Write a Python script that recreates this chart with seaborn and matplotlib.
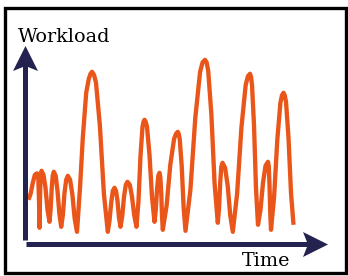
import matplotlib
matplotlib.use('Agg')
import matplotlib.pyplot as plt
import matplotlib.patches as patches
from matplotlib.path import Path
import seaborn as sns

sns.set_style('white')
plt.rcParams['font.family'] = ['DejaVu Serif']

# workload curve
time = [3, 5.1, 7.3, 9.4, 11.5,
        12.8, 13.6, 14, 14.4, 15, 16,
        18, 20, 22, 24,
        25.1, 26.2, 27.2, 28.3,
        30.2, 32, 33.9, 35.7,
        37.4, 39, 40.7, 42.3,
        44.6, 46.9, 49.2, 51.5,
        54.5, 57.3, 60.7, 63.3, 65, 66.5,
        68.5, 70.5, 74.4, 78.4, 82.3,
        84, 85.7, 87.3, 89,
        90.5, 92, 93.5, 95,
        96.8, 98.5, 100.3, 102,
        104.3, 106.5, 108.8, 111,
        113, 115, 117, 118, 119,
        120.2, 121.5, 124, 126.5, 129,
        130.3, 131.5, 132.8, 134,
        134.8, 135.7, 136.5, 137.3,
        141.1, 144.8, 148.6, 150.5, 152.3,
        153.2, 154.2, 156.2, 158.1, 160,
        164.9, 169.8, 174.6, 177.1, 179.5,
        181.1, 182.7, 185.9, 189.1, 192.3,
        193.5, 194.7, 195.8, 197,
        199.6, 202.2, 204.7, 207.3,
        211.6, 215.9, 220.2, 222.4, 224.5,
        225.5, 226.5, 228.5, 230.5, 232.5,
        235, 237.5, 240, 242.5,
        243.3, 244, 244.8, 245.5,
        248.6, 251.8, 254.9, 256.5, 258,
        259.2, 260.5, 263, 265.5, 268]

workload = [44, 50, 61, 69, 70.5,
            66, 40, 16, 40, 66, 73,
            69, 56, 34, 22,
            34, 55, 68, 72,
            68, 53, 30, 17,
            29, 51, 64, 68,
            64, 49, 25, 12,
            56, 106, 151, 165, 170, 172,
            169, 161, 118, 50, 12,
            23, 41, 53, 56,
            53, 43, 26, 17,
            28, 47, 59, 62,
            59, 47, 28, 17,
            43, 88, 117, 122, 124,
            122, 117, 89, 47, 22,
            34, 54, 68, 71,
            67, 52, 28, 14,
            38, 79, 105, 110, 112,
            110, 105, 78, 37, 13,
            54, 126, 172, 181.5, 184,
            181.5, 173, 129, 60, 21,
            35, 61, 77, 81,
            76, 58, 29, 12,
            50, 116, 159, 167.5, 170,
            167, 159, 119, 55, 19,
            34, 61, 78, 82,
            77, 59, 30, 14,
            47, 104, 141, 148.5, 151,
            148.5, 142, 106, 51, 19]

x_label = 'Time'
y_label = 'Workload'

orange = '#EA5519'
navy = '#24234F'

W, H = 348, 276
fig = plt.figure(figsize=(W / 100, H / 100), dpi=100)
ax = fig.add_axes([25.5 / W, 32.2 / H, 304 / W, 204 / H])

sns.lineplot(x=time, y=workload, sort=False, estimator=None, color=orange,
             linewidth=3.1, solid_joinstyle='round', solid_capstyle='butt', ax=ax)
ax.set_xlim(0, 304)
ax.set_ylim(0, 204)
ax.axis('off')

# axis arrows: thick shaft + notched (stealth) head
ax.plot([0, 0], [0.02, 0.92], transform=ax.transAxes, color=navy, lw=3.6,
        solid_capstyle='butt', clip_on=False)
ax.plot([0.002, 0.95], [0, 0], transform=ax.transAxes, color=navy, lw=3.6,
        solid_capstyle='butt', clip_on=False)
up_head = Path([(0, 0.5), (0.5, -0.5), (0, -0.3), (-0.5, -0.5), (0, 0.5)])
right_head = Path([(0.5, 0), (-0.5, 0.5), (-0.3, 0), (-0.5, -0.5), (0.5, 0)])
ax.plot([0], [0.913], marker=up_head, markersize=18, color=navy,
        markeredgewidth=0, transform=ax.transAxes, clip_on=False)
ax.plot([0.951], [0], marker=right_head, markersize=18, color=navy,
        markeredgewidth=0, transform=ax.transAxes, clip_on=False)

fig.text(18 / W, 1 - 41.7 / H, y_label, fontsize=13.8, color='black', va='baseline')
fig.text(242 / W, 1 - 266.3 / H, x_label, fontsize=13.8, color='black', va='baseline')

# frame around the whole picture
fig.patches.append(patches.Rectangle((5 / W, 3 / H), 341 / W, 265 / H,
                                     transform=fig.transFigure, fill=False,
                                     edgecolor='black', linewidth=2.4))

fig.savefig('out.png', dpi=100)
